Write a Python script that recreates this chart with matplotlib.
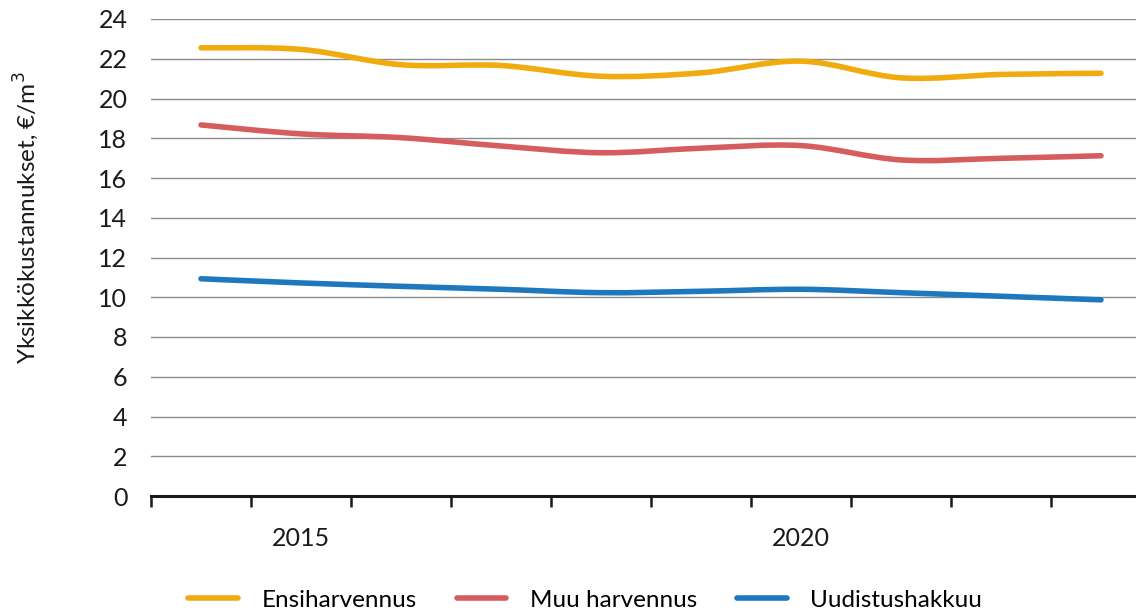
import numpy as np
import matplotlib
matplotlib.use("Agg")
import matplotlib.pyplot as plt
from matplotlib.path import Path
from matplotlib.patches import PathPatch
from matplotlib.lines import Line2D

plt.rcParams['font.family'] = ['Lato', 'DejaVu Sans']

years = [2014, 2015, 2016, 2017, 2018, 2019, 2020, 2021, 2022, 2023]
tick_years = ['2015', '2020']

ensiharvennus = [22.55, 22.47, 21.70, 21.66, 21.12, 21.29, 21.88, 21.04, 21.21, 21.27]
muu_harvennus = [18.67, 18.22, 18.03, 17.61, 17.27, 17.50, 17.63, 16.91, 16.99, 17.12]
uudistushakkuu = [10.93, 10.72, 10.55, 10.40, 10.23, 10.30, 10.40, 10.23, 10.05, 9.87]

labels = ['Ensiharvennus', 'Muu harvennus', 'Uudistushakkuu']
colors = ['#F1AB0E', '#D65D5D', '#1E78BE']


def smooth_path(x, y):
    # Excel-like smoothed line: cubic bezier segments through the points
    x = np.asarray(x, float)
    y = np.asarray(y, float)
    n = len(x)
    verts = [(x[0], y[0])]
    codes = [Path.MOVETO]
    for i in range(n - 1):
        p0 = np.array([x[max(i - 1, 0)], y[max(i - 1, 0)]])
        p1 = np.array([x[i], y[i]])
        p2 = np.array([x[i + 1], y[i + 1]])
        p3 = np.array([x[min(i + 2, n - 1)], y[min(i + 2, n - 1)]])
        c1 = p1 + (p2 - p0) / 6
        c2 = p2 - (p3 - p1) / 6
        verts += [tuple(c1), tuple(c2), tuple(p2)]
        codes += [Path.CURVE4] * 3
    return Path(verts, codes)


fig = plt.figure(figsize=(11.36, 6.11), dpi=100)
ax = fig.add_axes([151 / 1136, 115 / 611, 1000 / 1136, 477 / 611])

xs = np.arange(len(years))
handles = []
for vals, lab, col in zip([ensiharvennus, muu_harvennus, uudistushakkuu], labels, colors):
    patch = PathPatch(smooth_path(xs, vals), fill=False, edgecolor=col, lw=4.0,
                      capstyle='round', joinstyle='round', zorder=3)
    ax.add_patch(patch)
    handles.append(Line2D([], [], color=col, lw=4.0, solid_capstyle='round', label=lab))

ax.set_xlim(-0.5, len(years) - 0.5)
ax.set_ylim(0, 24)
ax.set_yticks(np.arange(0, 25, 2))
ax.yaxis.grid(True, color='#8c8c8c', lw=1.0)
ax.set_axisbelow(True)
ax.tick_params(axis='y', length=0, pad=17, labelsize=18, labelcolor='#1a1a1a')

# category axis: ticks between categories, labels only at 2015 and 2020
ax.set_xticks(np.arange(-0.5, len(years) + 0.5, 1))
ax.set_xticklabels([])
ax.set_xticks([years.index(int(t)) for t in tick_years], minor=True)
ax.set_xticklabels(tick_years, minor=True)
ax.tick_params(axis='x', which='major', length=8, width=1.8, color='#1a1a1a', direction='out')
ax.tick_params(axis='x', which='minor', length=0, pad=22, labelsize=18, labelcolor='#1a1a1a')

for s in ['top', 'right', 'left']:
    ax.spines[s].set_visible(False)
ax.spines['bottom'].set_linewidth(2.2)
ax.spines['bottom'].set_color('#1a1a1a')

ax.set_ylabel('Yksikkökustannukset, €/m$^3$', fontsize=17.5, color='#1a1a1a')
ax.yaxis.set_label_coords(-0.110, 0.583)

fig.legend(handles=handles, loc='lower center', bbox_to_anchor=(0.515, -0.035), ncol=3,
           frameon=False, fontsize=17.5, handlelength=2.05, handletextpad=0.95, columnspacing=1.65)

fig.savefig('out.png', dpi=100)
